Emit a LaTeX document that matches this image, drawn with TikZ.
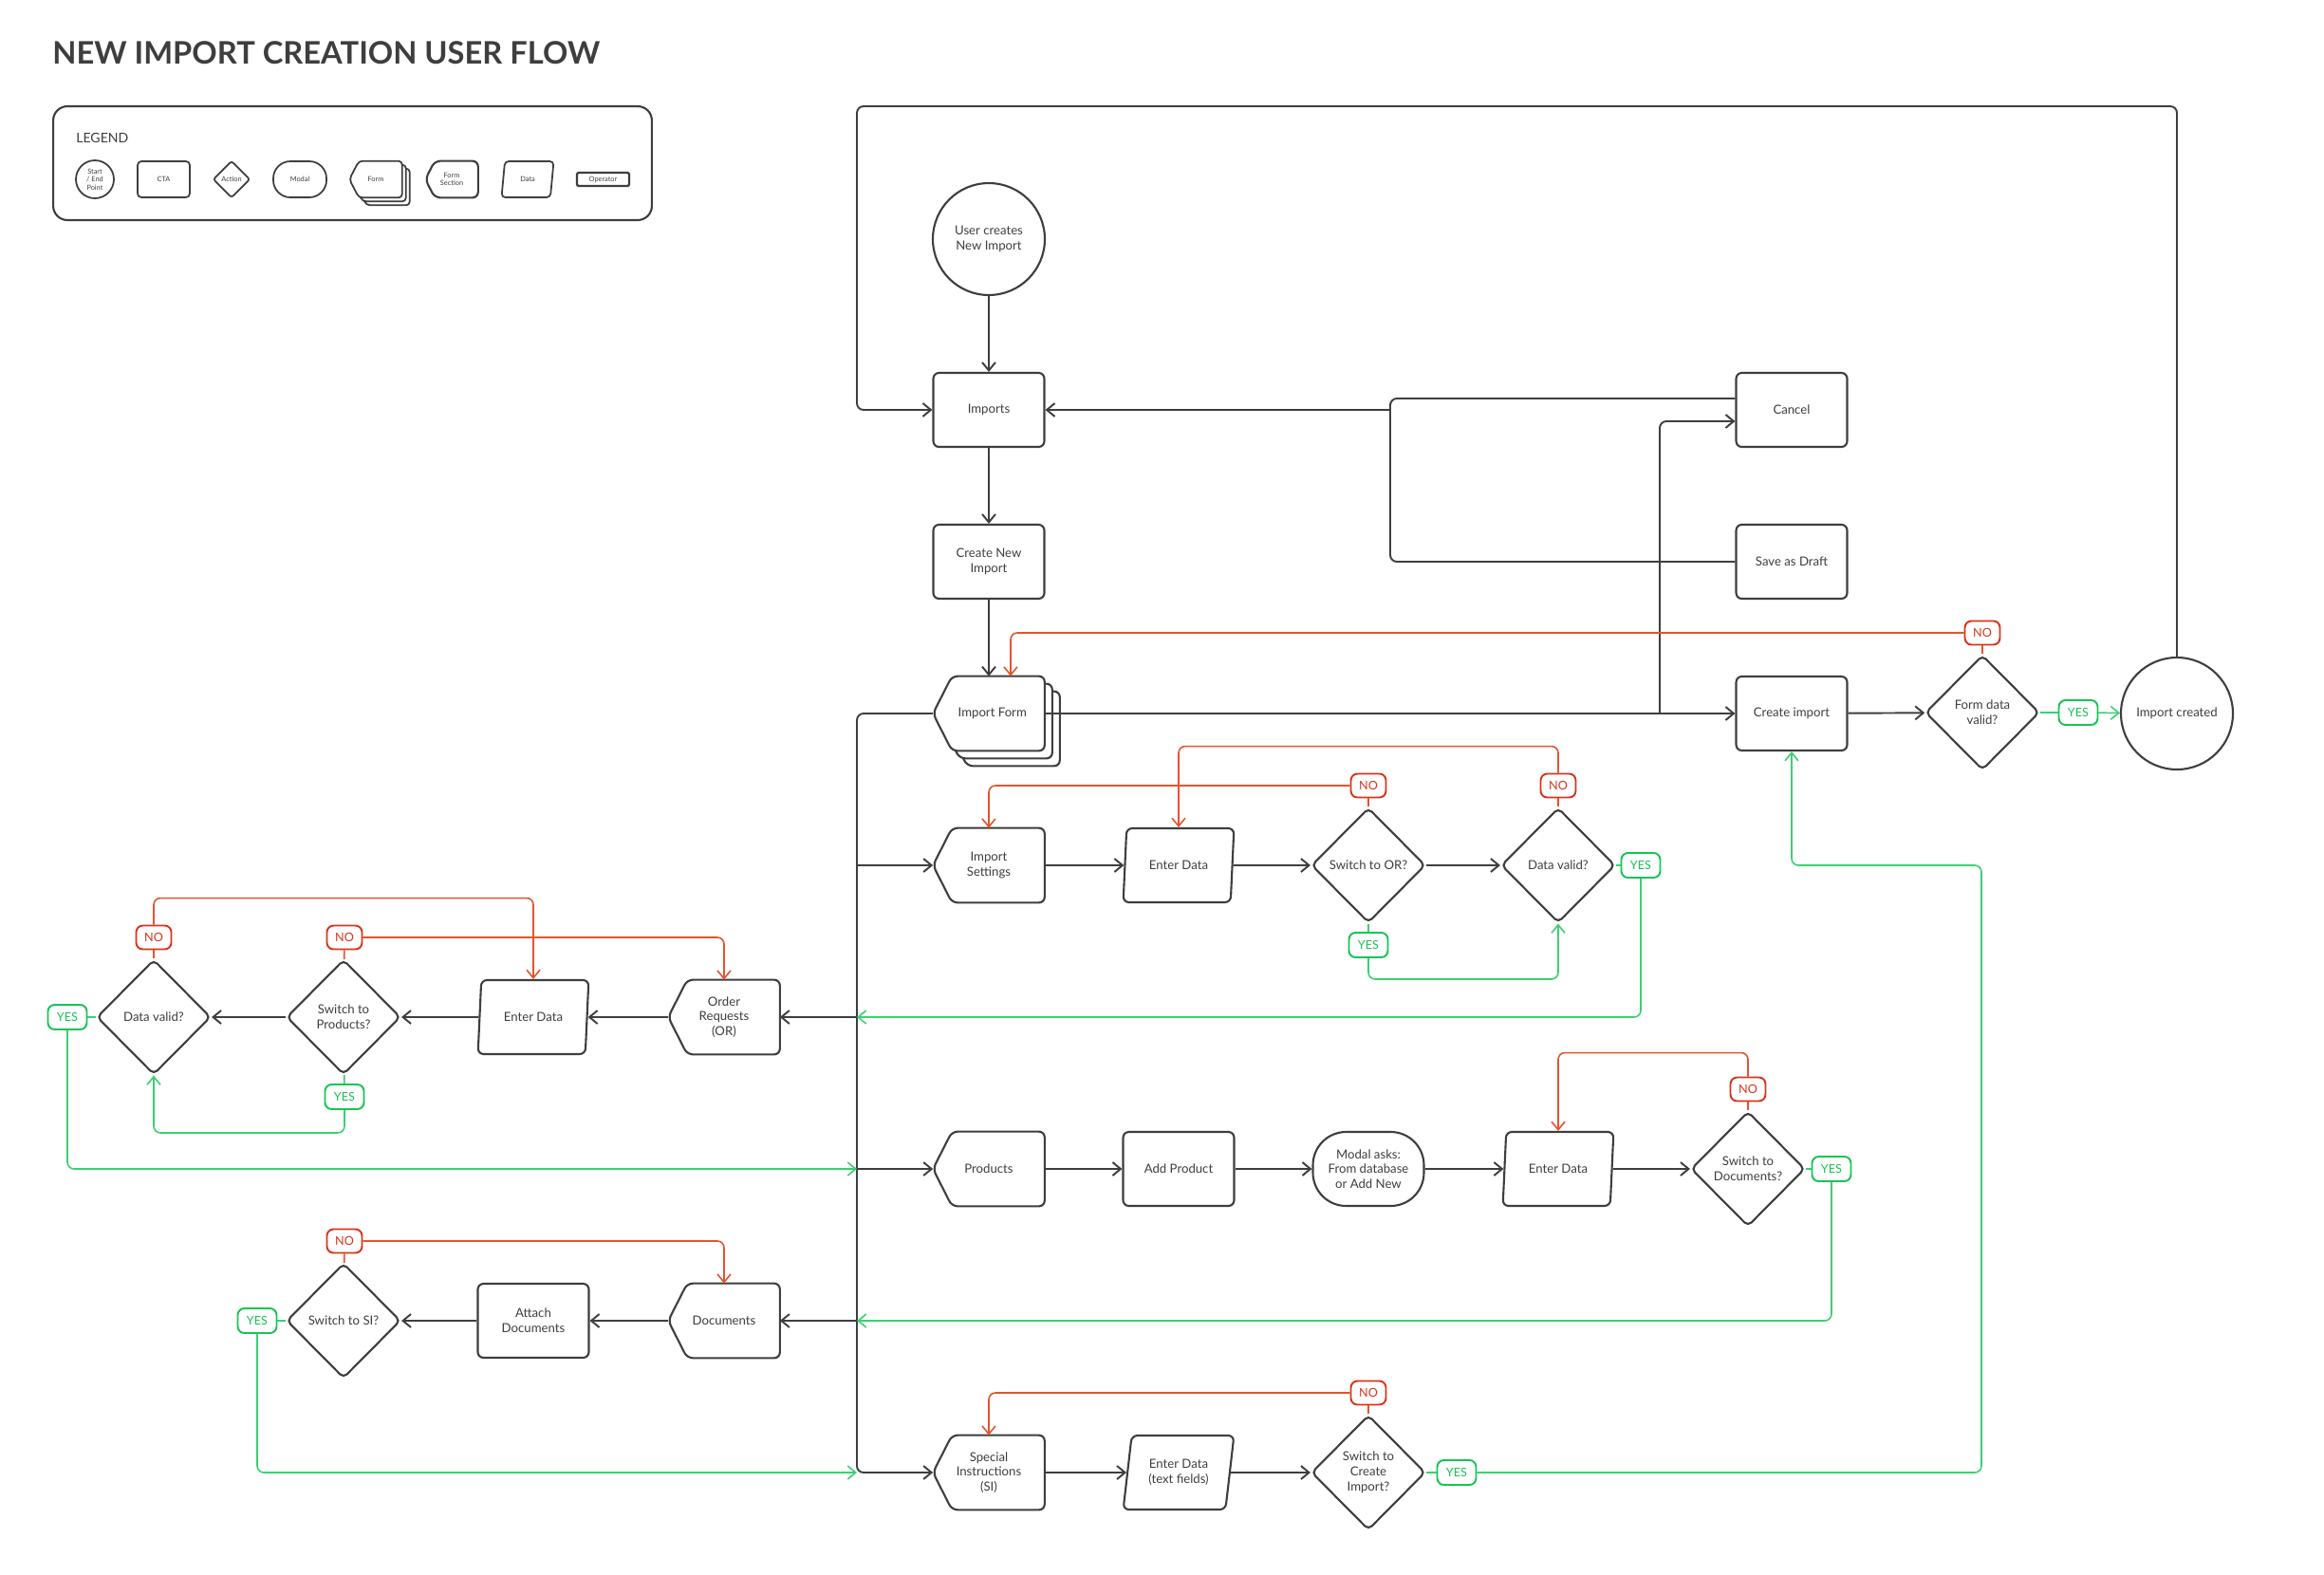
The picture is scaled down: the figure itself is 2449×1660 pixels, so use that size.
\documentclass[tikz,border=0pt]{standalone}
\usepackage{fontspec}
\setmainfont{Lato}
\usetikzlibrary{positioning,shapes.geometric,arrows.meta,backgrounds}

\definecolor{ink}{HTML}{3E3E3E}
\definecolor{nored}{HTML}{D9341C}
\definecolor{noline}{HTML}{E4532F}
\definecolor{yesgreen}{HTML}{17C454}
\definecolor{yesline}{HTML}{3CCF72}

\newcommand{\flowfont}{\fontsize{7.5}{9}\selectfont}
\newcommand{\lblfont}{\fontsize{7.2}{8}\selectfont}
\newcommand{\lgfont}{\fontsize{4.2}{4.8}\selectfont}

\tikzset{
  box/.style={minimum width=2.34cm, minimum height=1.56cm, inner sep=0pt, align=center, text=ink, font=\flowfont},
  cta/.style={box, draw=ink, line width=1.2pt, rounded corners=0.12cm},
  modal/.style={box, draw=ink, line width=1.2pt, rounded corners=0.7cm},
  datbox/.style={box, trapezium, trapezium left angle=78, trapezium right angle=102, trapezium stretches=true, draw=ink, line width=1.2pt, rounded corners=0.12cm},
  action/.style={diamond, draw=ink, line width=1.2pt, minimum width=2.4cm, minimum height=2.42cm, inner sep=0pt, rounded corners=0.1cm, align=center, text=ink, font=\flowfont},
  startend/.style={circle, draw=ink, line width=1.2pt, minimum size=2.36cm, inner sep=0pt, align=center, text=ink, font=\flowfont},
  shapeline/.style={draw=ink, line width=1.2pt, rounded corners=0.12cm, fill=white},
  nolbl/.style={draw=nored, text=nored, fill=white, line width=1.1pt, rounded corners=0.14cm, minimum width=0.74cm, minimum height=0.5cm, inner sep=0pt, font=\lblfont},
  yeslbl/.style={nolbl, draw=yesgreen, text=yesgreen, minimum width=0.82cm, minimum height=0.52cm},
  lg/.style={minimum width=1.1cm, minimum height=0.76cm, inner sep=0pt, align=center, text=ink, font=\lgfont},
  >={Straight Barb[length=0.17cm, width=0.28cm]}
}

\begin{document}
\begin{tikzpicture}
    [x=0.02cm, y=-0.02cm,
     flow/.style={draw=ink, line width=1.1pt, ->, rounded corners=0.14cm},
     noflow/.style={draw=noline, line width=0.9pt, rounded corners=0.14cm},
     yesflow/.style={draw=yesline, line width=0.9pt, rounded corners=0.14cm}]
  \useasboundingbox (0,0) rectangle (2449,1660);

  % title and legend
  \node[anchor=west, text=ink, font=\fontsize{18.6}{20}\selectfont\bfseries, inner sep=0pt] (title) at (55,56) {NEW IMPORT CREATION USER FLOW};
  \node[draw=ink, line width=1.2pt, rounded corners=0.3cm, minimum width=12.62cm, minimum height=2.4cm] (legend) at (371.5,172) {};
  \node[anchor=west, text=ink, font=\fontsize{8}{9}\selectfont, inner sep=0pt] (lgtitle) at (80,145) {LEGEND};
  \node[lg, circle, draw=ink, line width=1pt, minimum size=0.8cm] (l1) at (100,189) {Start\\/ End\\Point};
  \node[lg, draw=ink, line width=1pt, rounded corners=0.08cm] (l2) at (172.5,189) {CTA};
  \node[lg, diamond, draw=ink, line width=1pt, minimum width=0.78cm, minimum height=0.78cm, rounded corners=0.05cm] (l3) at (244,189) {Action};
  \node[lg, draw=ink, line width=1pt, minimum width=1.12cm, rounded corners=0.36cm] (l4) at (316,189) {Modal};
  \node[lg] (l5) at (396,189) {Form};
  \node[lg] (l6) at (476,189) {Form\\Section};
  \node[lg, trapezium, trapezium left angle=78, trapezium right angle=102, trapezium stretches=true, draw=ink, line width=1pt, rounded corners=0.08cm] (l7) at (556,189) {Data};
  \node[lg, draw=ink, line width=1.3pt, minimum height=0.28cm, rounded corners=0.04cm] (l8) at (635.5,189) {Operator};

  % main flow
  \node[startend] (n1) at (1042,252) {User creates\\New Import};
  \node[cta] (n2) at (1042,432) {Imports};
  \node[cta] (n3) at (1042,592) {Create New\\Import};
  \node[box] (n4) at (1042,752) {\hspace{0.15cm}Import Form};
  \node[cta] (n5) at (1888,432) {Cancel};
  \node[cta] (n6) at (1888,592) {Save as Draft};
  \node[cta] (n7) at (1888,752) {Create import};
  \node[action] (n8) at (2089,751) {Form data\\valid?};
  \node[startend] (n9) at (2294,752) {Import created};

  \node[box] (n10) at (1042,912) {Import\\Settings};
  \node[datbox] (n11) at (1242,912) {Enter Data};
  \node[action] (n12) at (1442,912) {Switch to OR?};
  \node[action] (n13) at (1642,912) {Data valid?};

  \node[box] (n14) at (763,1072) {Order\\Requests\\(OR)};
  \node[datbox] (n15) at (562,1072) {Enter Data};
  \node[action] (n16) at (362,1072) {Switch to\\Products?};
  \node[action] (n17) at (162,1072) {Data valid?};

  \node[box] (n18) at (1042,1232) {Products};
  \node[cta] (n19) at (1242,1232) {Add Product};
  \node[modal] (n20) at (1442,1232) {Modal asks:\\From database\\or Add New};
  \node[datbox] (n21) at (1642,1232) {Enter Data};
  \node[action] (n22) at (1842,1232) {Switch to\\Documents?};

  \node[box] (n23) at (763,1392) {Documents};
  \node[cta] (n24) at (562,1392) {Attach\\Documents};
  \node[action] (n25) at (362,1392) {Switch to SI?};

  \node[box] (n26) at (1042,1552) {Special\\Instructions\\(SI)};
  \node[datbox] (n27) at (1242,1552) {Enter Data\\(text fields)};
  \node[action] (n28) at (1442,1552) {Switch to\\Create\\Import?};

  % decisions
  \node[nolbl] (no1) at (2089,667) {NO};
  \node[yeslbl] (yes1) at (2190,751) {YES};
  \node[nolbl] (no2) at (1442,828) {NO};
  \node[yeslbl] (yes2) at (1442,996) {YES};
  \node[nolbl] (no3) at (1642,828) {NO};
  \node[yeslbl] (yes3) at (1729,912) {YES};
  \node[nolbl] (no4) at (162,988) {NO};
  \node[yeslbl] (yes4) at (71,1072) {YES};
  \node[nolbl] (no5) at (363,988) {NO};
  \node[yeslbl] (yes5) at (363,1156) {YES};
  \node[nolbl] (no6) at (1842,1148) {NO};
  \node[yeslbl] (yes6) at (1930,1232) {YES};
  \node[nolbl] (no7) at (363,1308) {NO};
  \node[yeslbl] (yes7) at (271,1392) {YES};
  \node[nolbl] (no8) at (1442,1468) {NO};
  \node[yeslbl] (yes8) at (1535,1552) {YES};

  \coordinate (bus) at (903,752);
  \coordinate (top) at (903,112);
  \coordinate (cs) at (1465,432);
  \coordinate (cb) at (1749,752);
  \coordinate (gr) at (2088,912);

  % form outlines
  \begin{pgfonlayer}{background}
    \foreach \o in {16,8,0}
      \draw[shapeline] ([shift={(\o+20,\o)}]n4.north west) -- ([shift={(\o,\o)}]n4.north east) -- ([shift={(\o,\o)}]n4.south east) -- ([shift={(\o+20,\o)}]n4.south west) -- ([shift={(\o,\o)}]n4.west) -- cycle;
    \foreach \o in {8,4,0}
      \draw[shapeline, line width=1pt, rounded corners=0.08cm] ([shift={(\o+10,\o)}]l5.north west) -- ([shift={(\o,\o)}]l5.north east) -- ([shift={(\o,\o)}]l5.south east) -- ([shift={(\o+10,\o)}]l5.south west) -- ([shift={(\o,\o)}]l5.west) -- cycle;
    \foreach \n/\c in {n10/20, n14/20, n18/20, n23/20, n26/20, l6/10}
      \draw[shapeline] ([shift={(\c,0)}]\n.north west) -- (\n.north east) -- (\n.south east) -- ([shift={(\c,0)}]\n.south west) -- (\n.west) -- cycle;
  \end{pgfonlayer}

  % connectors
  \foreach \from/\to in {n1/n2, n2/n3, n3/n4, n7/n8, n10/n11, n11/n12, n12/n13, n14/n15, n15/n16, n16/n17, n18/n19, n19/n20, n20/n21, n21/n22, n23/n24, n24/n25, n26/n27, n27/n28}
    \draw[flow] (\from) -- (\to);

  \draw[flow] (n4.east) -- (n7.west);
  \draw[flow] (n4.west) -- (bus) |- (n26.west);
  \foreach \to in {n10, n18}
    \draw[flow] (bus |- \to) -- (\to.west);
  \foreach \to in {n14, n23}
    \draw[flow] (bus |- \to) -- (\to.east);
  \draw[flow] (n9.north) |- (top) |- (n2.west);
  \draw[flow, -] ([yshift=0.24cm]n5.west) -| (cs) |- (n6.west);
  \draw[flow] (cs) -- (n2.east);
  \draw[flow] (cb) |- ([yshift=-0.24cm]n5.west);

  \foreach \from/\to in {n8/no1, n12/no2, n13/no3, n17/no4, n16/no5, n22/no6, n25/no7, n28/no8}
    \draw[noflow] (\from) -- (\to);
  \foreach \from/\to in {n8/yes1, n12/yes2, n13/yes3, n17/yes4, n16/yes5, n22/yes6, n25/yes7, n28/yes8}
    \draw[yesflow] (\from) -- (\to);

  \draw[noflow, ->] (no1.west) -| ([xshift=0.46cm]n4.north);
  \draw[noflow, ->] (no2.west) -| (n10.north);
  \draw[noflow, ->] (no3.north) -- ++(0,-28) -| (n11.north);
  \draw[noflow, ->] (no4.north) -- ++(0,-28) -| (n15.north);
  \draw[noflow, ->] (no5.east) -| (n14.north);
  \draw[noflow, ->] (no6.north) -- ++(0,-25) -| (n21.north);
  \draw[noflow, ->] (no7.east) -| (n23.north);
  \draw[noflow, ->] (no8.west) -| (n26.north);

  \draw[yesflow, ->] (yes1) -- (n9);
  \draw[yesflow, ->] (yes2.south) -- ++(0,22) -| (n13.south);
  \draw[yesflow, ->] (yes3.south) |- (bus |- n14);
  \draw[yesflow, ->] (yes4.south) |- (bus |- n18);
  \draw[yesflow, ->] (yes5.south) -- ++(0,24) -| (n17.south);
  \draw[yesflow, ->] (yes6.south) |- (bus |- n23);
  \draw[yesflow, ->] (yes7.south) |- (bus |- n26);
  \draw[yesflow, ->] (yes8.east) -| (gr) -| (n7.south);
\end{tikzpicture}
\end{document}
